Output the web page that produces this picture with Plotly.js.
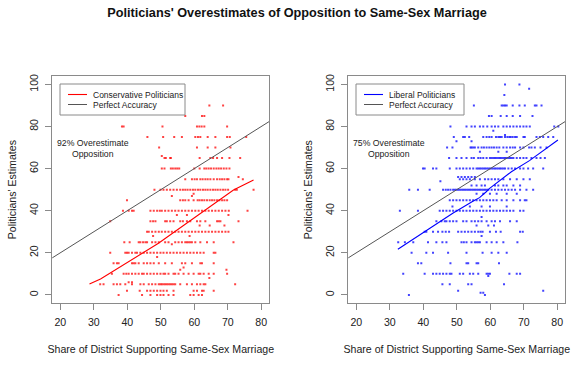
<!DOCTYPE html>
<html>
<head>
<meta charset="utf-8">
<script src="https://cdn.plot.ly/plotly-3.0.1.min.js"></script>
<style>html,body{margin:0;padding:0;background:#fff;}#chart{width:573px;height:365px;}</style>
</head>
<body>
<div id="chart"></div>
<script>
// ---------- DATA ----------
const xTicks = [20, 30, 40, 50, 60, 70, 80];
const yTicks = [0, 20, 40, 60, 80, 100];

// Conservative politicians: estimate levels and district support values at each level
const consLevels = [90, 85, 80, 75, 70, 66, 65, 60, 56, 55, 50, 48, 47, 45, 40, 38, 35, 33, 30, 28, 25, 24, 20, 18, 15, 13, 12, 10, 8, 6, 5, 2, 0];
const consSupport = [
  [64.5, 68.6],
  [57.3, 62.3, 63.0],
  [38.4, 38.9, 50.5, 60.8, 61.5, 62.2, 63.0, 69.8],
  [46.0, 50.7, 54.0, 56.3, 60.3, 61.1, 61.8, 64.0, 66.3, 69.8, 70.6, 75.5],
  [49.5, 60.8, 64.0, 66.3, 70.8],
  [50.3],
  [51.1, 51.5, 52.8, 53.0, 61.6, 64.8, 65.6, 66.8, 68.3, 70.5, 73.7],
  [50.3, 51.1, 53.0, 53.6, 54.3, 54.9, 55.5, 60.0, 61.6, 63.0, 63.6, 64.3, 65.0, 65.8, 66.6, 67.3, 68.0, 68.8, 69.6, 70.5],
  [73.2],
  [57.3, 59.3, 60.1, 60.8, 61.8, 62.5, 63.3, 64.0, 64.8, 65.8, 66.8, 67.6, 68.3, 69.0, 69.8, 70.2, 74.5],
  [48.1, 49.9, 50.8, 51.8, 52.8, 53.8, 54.8, 55.8, 56.6, 57.3, 58.0, 58.8, 59.6, 60.3, 61.1, 61.8, 62.6, 63.3, 64.0, 64.8, 65.6, 66.3, 67.0, 67.8, 68.6, 69.3, 70.1, 72.2, 72.7, 77.7],
  [59.8],
  [53.3, 59.3],
  [39.9, 55.8, 56.6, 57.3, 58.3, 59.8, 61.0, 61.6, 62.3, 63.0, 63.8, 64.6, 65.3, 66.0, 66.8, 67.5, 68.3, 69.0, 69.8],
  [38.7, 40.4, 41.4, 41.9, 46.9, 47.9, 48.9, 49.7, 50.3, 51.3, 52.3, 53.3, 54.3, 55.3, 56.3, 57.3, 58.3, 59.3, 60.3, 61.3, 62.3, 63.3, 64.3, 65.3, 66.3, 67.3, 68.3, 69.3, 70.3, 75.9],
  [54.8, 57.8, 70.2],
  [34.9, 46.9, 47.7, 48.4, 51.3, 51.8, 52.8, 53.8, 55.8, 56.6, 57.8, 58.8, 60.8, 61.8, 63.3, 66.8, 67.3, 67.8, 73.2],
  [61.6, 64.6, 69.0],
  [45.9, 46.4, 47.4, 48.4, 49.4, 50.3, 51.3, 52.3, 53.3, 54.3, 55.3, 56.3, 57.3, 58.3, 59.3, 60.3, 61.3, 62.3, 63.3, 64.3, 65.3, 66.3, 67.3, 68.3, 69.3, 70.2],
  [47.7, 58.6],
  [39.1, 40.7, 43.4, 43.9, 44.7, 45.4, 45.9, 47.4, 48.4, 49.4, 51.3, 52.3, 54.3, 55.3, 56.3, 57.3, 57.8, 58.3, 58.8, 59.3, 60.3, 61.8, 63.8, 65.8, 71.7],
  [53.3],
  [34.9, 39.4, 39.9, 40.4, 41.4, 42.4, 42.9, 43.9, 44.9, 45.9, 46.9, 47.9, 48.9, 49.9, 50.8, 51.8, 52.8, 53.8, 54.8, 55.8, 56.8, 57.8, 58.8, 59.8, 60.8, 61.8, 62.8, 65.8, 66.3],
  [48.9],
  [35.9, 36.9, 37.4, 41.4, 41.9, 42.4, 43.4, 44.9, 45.9, 46.9, 47.9, 49.4, 51.3, 53.3, 56.3, 57.3, 59.3, 61.8, 62.3, 65.8],
  [56.8],
  [55.8, 69.6],
  [35.4, 38.9, 39.7, 40.4, 41.4, 42.4, 43.4, 44.4, 44.9, 45.9, 46.9, 47.9, 48.9, 49.9, 50.8, 51.3, 52.3, 53.8, 54.3, 55.3, 56.8, 58.3, 59.8, 61.3, 61.8, 62.8, 64.3, 65.8, 69.8],
  [64.5],
  [40.4, 41.4],
  [31.9, 32.9, 35.9, 36.9, 37.9, 39.4, 41.4, 43.9, 44.9, 46.4, 47.4, 48.4, 49.4, 49.9, 50.3, 50.8, 51.3, 51.8, 52.3, 52.8, 53.3, 53.8, 54.3, 55.8, 57.8, 59.3, 60.8, 61.8, 62.8, 63.3, 72.2],
  [39.9, 43.7, 45.9, 46.9, 47.9, 48.9, 49.9, 50.8, 51.8, 53.8, 59.8, 60.8, 62.3, 62.8, 65.8],
  [37.4, 44.4, 46.9, 48.9, 49.9, 50.8, 52.3, 53.8, 58.8, 59.8, 61.3, 62.3]
];

// Liberal politicians
const libLevels = [100, 98, 95, 90, 85, 80, 78, 76, 75, 73, 70, 68, 65, 60, 56, 55, 54, 52, 50, 48, 45, 42, 40, 37, 35, 33, 30, 28, 25, 20, 15, 10, 9, 5, 2, 1, 0];
const libSupport = [
  [64.4, 68.7],
  [71.6],
  [64.2],
  [55.1, 63.4, 63.9, 64.4, 64.9, 66.7, 68.7, 70.3, 73.3, 73.8, 75.3],
  [59.6, 60.4, 63.1, 64.9, 66.7, 68.9, 72.6],
  [48.1, 52.9, 54.4, 55.4, 56.9, 57.9, 59.1, 60.4, 61.4, 62.4, 63.9, 64.9, 65.9, 66.9, 67.9, 68.9, 69.9, 70.8, 71.8, 79.1, 80.3],
  [60.9],
  [64.4],
  [49.1, 51.9, 52.4, 53.7, 57.9, 58.9, 59.7, 60.4, 61.7, 62.4, 62.9, 63.4, 64.4, 65.1, 65.7, 66.1, 66.7, 67.4, 67.9, 69.9, 70.3, 73.8, 74.8, 75.8, 77.3, 78.8],
  [49.9, 54.4],
  [47.1, 48.7, 54.1, 54.4, 54.9, 55.4, 56.4, 57.4, 58.1, 58.9, 59.7, 60.4, 61.1, 61.9, 62.7, 63.9, 64.9, 65.9, 66.7, 67.4, 68.9, 69.9, 71.6, 72.3, 73.3, 75.0, 76.8],
  [56.9, 62.4, 64.9],
  [47.7, 49.9, 51.4, 52.9, 54.4, 55.1, 56.4, 57.1, 57.9, 58.9, 59.9, 60.4, 60.9, 61.4, 61.9, 62.4, 62.9, 63.4, 63.9, 64.4, 64.9, 65.4, 65.9, 66.4, 66.9, 67.9, 68.9, 69.9, 70.8, 72.3, 73.8, 75.0, 76.3],
  [39.9, 40.4, 42.9, 43.9, 47.9, 49.9, 50.9, 51.9, 52.9, 53.9, 54.9, 55.9, 56.4, 56.9, 57.4, 57.9, 58.4, 58.9, 59.4, 59.9, 60.4, 60.9, 61.4, 61.9, 62.4, 62.9, 63.4, 63.9, 64.4, 65.4, 66.4, 67.4, 68.9, 69.9, 71.3, 72.8, 75.8],
  [50.4, 51.4, 52.4, 53.4, 54.4, 55.4],
  [50.9, 51.9, 52.9, 53.9, 55.4, 56.9, 58.4, 59.4, 60.4, 61.4, 62.4, 63.9, 65.9, 67.9, 69.9, 71.8],
  [45.1],
  [54.4, 55.9, 57.4, 58.4, 61.4, 62.4, 63.9, 64.9, 66.9, 68.9],
  [35.8, 38.4, 41.9, 45.9, 46.7, 47.4, 48.1, 48.9, 49.4, 49.9, 50.4, 50.9, 51.4, 51.9, 52.4, 52.9, 53.4, 53.9, 54.4, 54.9, 55.4, 55.9, 56.4, 56.9, 57.4, 57.9, 58.4, 58.9, 59.4, 60.4, 61.4, 62.4, 63.4, 64.4, 65.4, 66.4, 67.4, 68.9, 70.8, 72.8],
  [55.9, 57.9, 59.9, 61.9, 64.9, 67.9],
  [47.9, 48.9, 49.9, 50.9, 51.9, 52.9, 53.9, 54.9, 55.9, 56.9, 57.9, 58.9, 59.9, 60.9, 61.9, 63.4, 64.9, 66.9, 68.9, 70.3, 70.8],
  [48.7, 53.9, 57.4, 59.9, 64.9],
  [33.0, 38.4, 44.9, 45.9, 46.9, 47.9, 48.9, 49.9, 50.9, 51.9, 52.9, 53.9, 54.9, 55.9, 56.9, 57.9, 58.9, 59.9, 60.9, 61.9, 62.9, 63.9, 64.9, 65.9, 66.9, 68.9, 69.9],
  [57.4],
  [43.9, 45.4, 46.4, 46.9, 47.9, 48.9, 49.9, 51.9, 52.9, 54.4, 55.4, 56.4, 57.4, 58.9, 60.4, 61.4, 62.9, 65.9, 67.9],
  [55.9, 59.4, 61.1],
  [40.4, 40.9, 42.9, 44.4, 45.7, 46.7, 47.7, 50.4, 51.4, 52.4, 53.4, 54.4, 55.4, 56.4, 57.1, 57.7, 59.9, 61.7, 63.1, 68.9, 69.7],
  [57.4],
  [32.5, 34.5, 37.0, 41.4, 43.9, 45.7, 46.9, 51.4, 52.1, 52.9, 54.4, 55.4, 55.9, 56.4, 56.9, 58.9, 60.4, 61.9, 63.9, 68.1],
  [36.5, 40.9, 42.9, 47.4, 52.9, 57.7, 60.4, 62.4, 64.9],
  [38.4, 39.4, 48.1, 52.9, 53.4, 55.9, 56.4, 62.6],
  [34.0, 40.4, 42.9, 43.9, 44.9, 45.9, 46.9, 47.9, 48.4, 50.9, 51.9, 53.9, 54.9, 56.4, 58.9, 59.4, 59.9, 65.7, 67.9, 68.9],
  [59.4],
  [45.7, 47.9, 53.4, 54.4, 64.1],
  [50.4, 75.8],
  [57.1, 57.9],
  [35.7, 58.4]
];

// Smoothed fit lines
const consFitX = [28.7, 32.0, 49.3, 54.8, 64.8, 67.3, 71.7, 77.7];
const consFitY = [5.2, 7.6, 24.5, 30.8, 41.9, 45.1, 49.8, 54.6];
const libFitX = [32.4, 44.9, 48.8, 54.8, 56.8, 58.8, 59.8, 66.3, 71.7, 80.2];
const libFitY = [21.7, 34.5, 38.8, 44.5, 46.2, 49.0, 50.6, 58.5, 63.8, 73.6];

// Perfect accuracy (y = x)
const perfectX = [0, 100];
const perfectY = [0, 100];

const consLabel = "Conservative Politicians";
const libLabel = "Liberal Politicians";
const perfectLabel = "Perfect Accuracy";
const consNote = "92% Overestimate<br>Opposition";
const libNote = "75% Overestimate<br>Opposition";

// ---------- BUILD ----------
function flatten(levels, support) {
  const xs = [], ys = [];
  levels.forEach((lv, i) => support[i].forEach(v => { xs.push(v); ys.push(lv); }));
  return {xs, ys};
}
const cons = flatten(consLevels, consSupport);
const lib = flatten(libLevels, libSupport);

const RED = "#ff0000", BLUE = "#0000ff", GRAY = "#555555";
const FONT = "Liberation Sans, Arial, Helvetica, sans-serif";
const W = 573, H = 365;
const px = p => p / W;
const py = p => 1 - p / H;

const traces = [
  {x: cons.xs, y: cons.ys, xaxis: "x", yaxis: "y", type: "scatter", mode: "markers",
   marker: {color: "rgba(255,20,20,0.8)", size: 2, symbol: "square", line: {width: 0}}, showlegend: false, hoverinfo: "skip"},
  {x: perfectX, y: perfectY, xaxis: "x", yaxis: "y", type: "scatter", mode: "lines",
   line: {color: GRAY, width: 1}, showlegend: false},
  {x: consFitX, y: consFitY, xaxis: "x", yaxis: "y", type: "scatter", mode: "lines",
   line: {color: RED, width: 1.1}, showlegend: false},
  {x: lib.xs, y: lib.ys, xaxis: "x2", yaxis: "y2", type: "scatter", mode: "markers",
   marker: {color: "rgba(20,20,255,0.8)", size: 2, symbol: "square", line: {width: 0}}, showlegend: false, hoverinfo: "skip"},
  {x: perfectX, y: perfectY, xaxis: "x2", yaxis: "y2", type: "scatter", mode: "lines",
   line: {color: GRAY, width: 1}, showlegend: false},
  {x: libFitX, y: libFitY, xaxis: "x2", yaxis: "y2", type: "scatter", mode: "lines",
   line: {color: BLUE, width: 1.1}, showlegend: false}
];

const tickFont = {family: FONT, size: 10.6, color: "#222"};
function xAxis(domain, anchor) {
  return {
    domain, anchor, range: [17.6, 82.4], tickvals: xTicks, ticktext: xTicks.map(String),
    ticks: "outside", ticklen: 6, tickcolor: "#8a8a8a", tickwidth: 1, ticklabelstandoff: 3,
    showline: true, mirror: true, linecolor: "#8a8a8a", linewidth: 1,
    showgrid: false, zeroline: false, tickfont: tickFont,
    title: {text: "Share of District Supporting Same-Sex Marriage", font: {family: FONT, size: 10.6, color: "#222"}, standoff: 18}
  };
}
function yAxis(domain, anchor) {
  return {
    domain, anchor, range: [-4, 104], tickvals: yTicks, ticktext: yTicks.map(String),
    ticks: "outside", ticklen: 6, tickcolor: "#8a8a8a", tickwidth: 1, tickangle: -90, ticklabelstandoff: 3,
    showline: true, mirror: true, linecolor: "#8a8a8a", linewidth: 1,
    showgrid: false, zeroline: false, tickfont: tickFont,
    title: {text: "Politicians' Estimates", font: {family: FONT, size: 10.6, color: "#222"}, standoff: 9}
  };
}

const yDom = [py(303.3), py(76)];

function legendParts(left, fitLabel, fitColor) {
  const top = 84, bottom = 115, right = left + (fitLabel === consLabel ? 125 : 108);
  const shapes = [
    {type: "rect", xref: "paper", yref: "paper", x0: px(left), x1: px(right), y0: py(bottom), y1: py(top),
     line: {color: "#8a8a8a", width: 1}, fillcolor: "rgba(0,0,0,0)"},
    {type: "line", xref: "paper", yref: "paper", x0: px(left + 8), x1: px(left + 27), y0: py(94.5), y1: py(94.5),
     line: {color: fitColor, width: 1.1}},
    {type: "line", xref: "paper", yref: "paper", x0: px(left + 8), x1: px(left + 27), y0: py(104.5), y1: py(104.5),
     line: {color: GRAY, width: 1}}
  ];
  const anns = [
    {xref: "paper", yref: "paper", x: px(left + 31), y: py(94.5), xanchor: "left", yanchor: "middle",
     text: fitLabel, showarrow: false, font: {family: FONT, size: 8.5, color: "#222"}},
    {xref: "paper", yref: "paper", x: px(left + 31), y: py(104.5), xanchor: "left", yanchor: "middle",
     text: perfectLabel, showarrow: false, font: {family: FONT, size: 8.5, color: "#222"}}
  ];
  return {shapes, anns};
}
const legL = legendParts(60, consLabel, RED);
const legR = legendParts(356, libLabel, BLUE);

const layout = {
  width: W, height: H,
  margin: {l: 0, r: 0, t: 0, b: 0},
  paper_bgcolor: "#fff", plot_bgcolor: "#fff",
  font: {family: FONT, color: "#222"},
  showlegend: false,
  title: {text: "<b>Politicians' Overestimates of Opposition to Same-Sex Marriage</b>",
          font: {family: FONT, size: 12.7, color: "#111"}, x: px(297), xanchor: "center", xref: "paper",
          y: py(12.8), yanchor: "middle", yref: "paper"},
  xaxis: xAxis([px(52.3), px(269.3)], "y"),
  yaxis: yAxis(yDom, "x"),
  xaxis2: xAxis([px(348.3), px(565.3)], "y2"),
  yaxis2: yAxis(yDom, "x2"),
  shapes: [...legL.shapes, ...legR.shapes],
  annotations: [
    ...legL.anns, ...legR.anns,
    {xref: "paper", yref: "paper", x: px(93), y: py(148), xanchor: "center", yanchor: "middle",
     text: consNote, showarrow: false, align: "center", font: {family: FONT, size: 8.7, color: "#222"}},
    {xref: "paper", yref: "paper", x: px(389), y: py(148), xanchor: "center", yanchor: "middle",
     text: libNote, showarrow: false, align: "center", font: {family: FONT, size: 8.7, color: "#222"}}
  ]
};

Plotly.newPlot("chart", traces, layout, {staticPlot: true, displayModeBar: false});
</script>
</body>
</html>
